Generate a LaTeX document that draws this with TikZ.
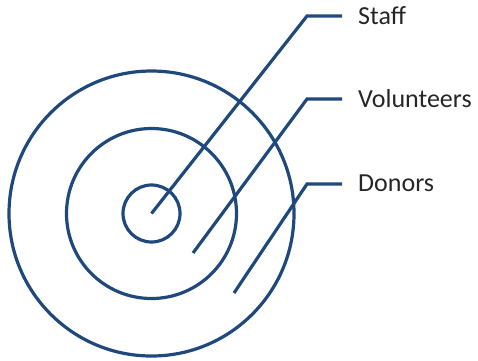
\documentclass[tikz,border=0pt]{standalone}
\usepackage{fontspec}
\setmainfont{Carlito}
\definecolor{ringblue}{RGB}{31,73,125}
\definecolor{labgray}{RGB}{38,38,38}
\begin{document}
\begin{tikzpicture}[x=1bp,y=-1bp,
  ring/.style={draw=ringblue,line width=3.2bp},
  ln/.style={draw=ringblue,line width=3.2bp},
  lab/.style={inner sep=0pt,anchor=base west,text=labgray,font=\fontsize{26bp}{30bp}\selectfont}]
\useasboundingbox (0,0) rectangle (478,360);
\coordinate (c) at (151.5,213.5);
\draw[ring] (c) circle[radius=142.5];
\draw[ring] (c) circle[radius=85];
\draw[ring] (c) circle[radius=28.5];
% Staff
\coordinate (s0) at (151.5,213.5);
\coordinate (s1) at (307,16);
\coordinate (s2) at (342,16);
\node[lab] (staff) at (358,24) {Staff};
\draw[ln] (s0) -- (s1) -- (s2);
% Volunteers
\coordinate (v0) at (193,253);
\coordinate (v1) at (307,99);
\coordinate (v2) at (342,99);
\node[lab] (vol) at (358,107) {Volunteers};
\draw[ln] (v0) -- (v1) -- (v2);
% Donors
\coordinate (d0) at (234,293);
\coordinate (d1) at (307,184);
\coordinate (d2) at (342,184);
\node[lab] (don) at (358,191) {Donors};
\draw[ln] (d0) -- (d1) -- (d2);
\end{tikzpicture}
\end{document}
